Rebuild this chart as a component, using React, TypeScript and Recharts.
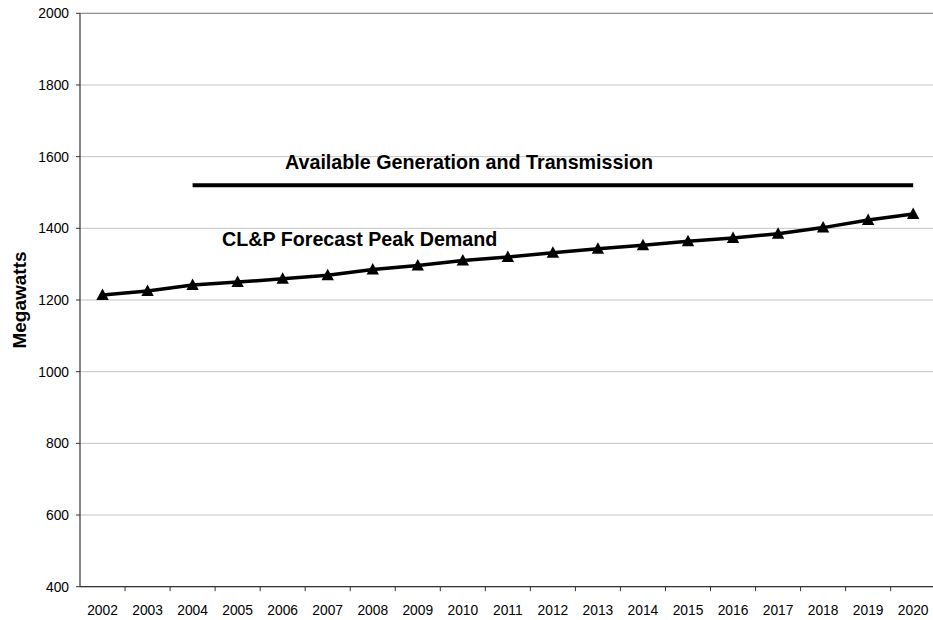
import { LineChart, Line, XAxis, YAxis, CartesianGrid, ReferenceLine } from 'recharts';

const years = [
  '2002', '2003', '2004', '2005', '2006', '2007', '2008', '2009', '2010', '2011',
  '2012', '2013', '2014', '2015', '2016', '2017', '2018', '2019', '2020',
];

// CL&P forecast peak demand, MW
const peakDemand = [
  1214, 1225, 1242, 1250, 1259, 1269, 1285, 1296, 1310, 1320,
  1332, 1343, 1353, 1364, 1373, 1385, 1402, 1423, 1440,
];

// available generation and transmission capacity, MW (starts in 2004)
const available = [
  null, null, 1520, 1520, 1520, 1520, 1520, 1520, 1520, 1520,
  1520, 1520, 1520, 1520, 1520, 1520, 1520, 1520, 1520,
];

const yTicks = [400, 600, 800, 1000, 1200, 1400, 1600, 1800, 2000];

const data = years.map((year, i) => ({
  year,
  demand: peakDemand[i],
  available: available[i],
}));

const FONT = '"Liberation Sans", Arial, sans-serif';

const Triangle = ({ cx, cy }: any) => {
  if (cx == null || cy == null) return null;
  return (
    <polygon
      points={`${cx},${cy - 6.5} ${cx - 6.2},${cy + 5} ${cx + 6.2},${cy + 5}`}
      fill="#000"
    />
  );
};

// label centred in the band, tick mark on the band's right edge
const YearTick = ({ x, y, payload }: any) => {
  const half = payload?.offset || 22.5;
  return (
    <g>
      <line x1={x + half} y1={y} x2={x + half} y2={y + 4.5} stroke="#333" strokeWidth={1} />
      <text x={x} y={y + 28.5} textAnchor="middle" fontSize={13.8} fill="#000" fontFamily={FONT}>
        {payload.value}
      </text>
    </g>
  );
};

export default function App() {
  return (
    <div
      style={{
        position: 'absolute',
        left: 0,
        top: 0,
        width: 933,
        height: 620,
        overflow: 'hidden',
        background: '#fff',
        fontFamily: FONT,
      }}
    >
      <LineChart
        width={946}
        height={620}
        data={data}
        margin={{ top: 13.3, right: 10.3, left: 0, bottom: 3.3 }}
      >
        <CartesianGrid horizontal vertical={false} stroke="#c4c4c4" />
        <XAxis
          dataKey="year"
          scale="band"
          interval={0}
          height={30}
          tickSize={0}
          tickMargin={0}
          tick={<YearTick />}
          axisLine={{ stroke: '#333', strokeWidth: 1.2 }}
        />
        <YAxis
          domain={[400, 2000]}
          ticks={yTicks}
          width={80}
          tickSize={4}
          tickMargin={7}
          tick={{ fill: '#000', fontSize: 13.8, fontFamily: FONT }}
          axisLine={{ stroke: '#333', strokeWidth: 1.2 }}
          tickLine={{ stroke: '#333' }}
        />
        <ReferenceLine y={2000} stroke="#888" />
        <Line
          dataKey="available"
          stroke="#000"
          strokeWidth={4}
          dot={false}
          isAnimationActive={false}
        />
        <Line
          dataKey="demand"
          stroke="#000"
          strokeWidth={3.5}
          dot={<Triangle />}
          isAnimationActive={false}
        />
      </LineChart>
      <svg
        width={933}
        height={620}
        style={{ position: 'absolute', left: 0, top: 0, pointerEvents: 'none' }}
      >
        <text x={285} y={168.5} fontSize={19.7} fontWeight="bold" fontFamily={FONT} fill="#000">
          Available Generation and Transmission
        </text>
        <text x={222} y={246} fontSize={19.7} fontWeight="bold" fontFamily={FONT} fill="#000">
          CL&amp;P Forecast Peak Demand
        </text>
        <text
          x={0}
          y={0}
          transform="translate(25.5 300) rotate(-90)"
          textAnchor="middle"
          fontSize={19}
          fontWeight="bold"
          fontFamily={FONT}
          fill="#000"
        >
          Megawatts
        </text>
      </svg>
    </div>
  );
}
